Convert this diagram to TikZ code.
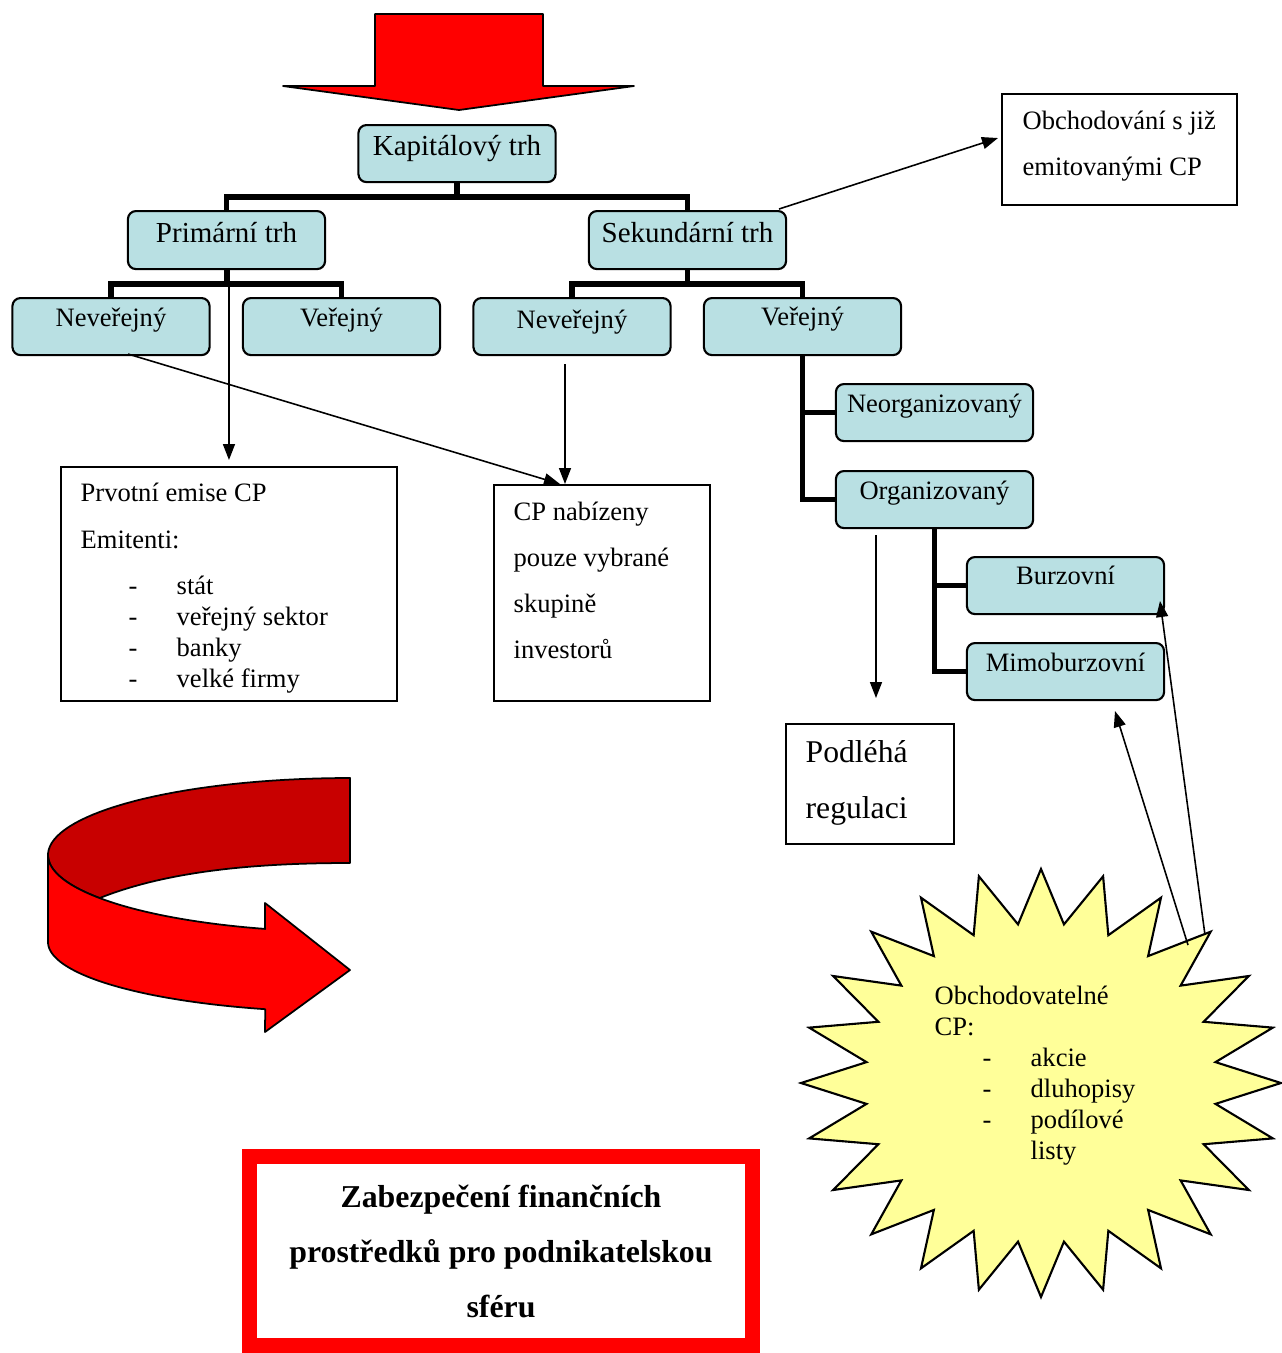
\documentclass[tikz,border=0pt]{standalone}
\usepackage{fontspec}
\setmainfont{Liberation Serif}
\usetikzlibrary{arrows.meta}
\definecolor{boxblue}{RGB}{185,224,227}
\definecolor{staryellow}{RGB}{255,255,153}
\definecolor{darkband}{RGB}{200,0,0}
\newcommand\fsm{\fontsize{7.55}{9}\selectfont}
\newcommand\fmd{\fontsize{8.25}{10}\selectfont}
\newcommand\flg{\fontsize{9}{11}\selectfont}
\newcommand\fbd{\fontsize{9.05}{15.65}\selectfont\bfseries}
\tikzset{
  mkt/.style={draw, fill=boxblue, rounded corners=0.08cm, line width=0.6pt,
    minimum width=1.97cm, inner sep=0pt, anchor=north, font=\fsm,
    text height=0.28cm, text depth=0.29cm},
  mktbig/.style={mkt, font=\fmd, text height=0.30cm, text depth=0.27cm},
  plain/.style={draw, line width=0.5pt, inner sep=0pt, anchor=north west},
  txt/.style={inner sep=0pt, anchor=base west, font=\fsm},
  tree/.style={line width=0.055cm, line join=miter},
  arr/.style={line width=0.45pt, -{Triangle[length=0.16cm,width=0.12cm]}},
  redshape/.style={fill=red, draw=black, line width=0.5pt, line join=round}
}
\begin{document}
\begin{tikzpicture}[x=0.01cm, y=-0.01cm]
\useasboundingbox (0,0) rectangle (1282,1353);

% big downward arrow at the top
\filldraw[redshape] (375,14) -- (543,14) -- (543,86) -- (634,86) -- (459,110)
  -- (283,86) -- (375,86) -- cycle;

% market tree
\node[mktbig] (kap) at (457,124) {Kapitálový trh};
\node[mktbig, text height=0.31cm] (prim) at (226.5,210) {Primární trh};
\node[mktbig, text height=0.31cm] (sek) at (687.5,210) {Sekundární trh};
\node[mkt] (nev1) at (111,297) {Neveřejný};
\node[mkt] (ver1) at (341.5,297) {Veřejný};
\node[mkt, text height=0.30cm, text depth=0.27cm] (nev2) at (572,297) {Neveřejný};
\node[mkt, text height=0.27cm, text depth=0.30cm] (ver2) at (802.5,297) {Veřejný};
\node[mkt] (neorg) at (934.5,383) {Neorganizovaný};
\node[mkt] (org) at (934.5,470) {Organizovaný};
\node[mkt, text height=0.27cm, text depth=0.30cm] (burz) at (1065.5,556) {Burzovní};
\node[mkt] (mimo) at (1065.5,642) {Mimoburzovní};

\draw[tree] (kap.south) -- ++(0,14) -| (prim.north);
\draw[tree] (kap.south) -- ++(0,14) -| (sek.north);
\draw[tree] (prim.south) -- ++(0,14) -| (nev1.north);
\draw[tree] (prim.south) -- ++(0,14) -| (ver1.north);
\draw[tree] (sek.south) -- ++(0,14) -| (nev2.north);
\draw[tree] (sek.south) -- ++(0,14) -| (ver2.north);
\draw[tree] (ver2.south) |- (neorg.west);
\draw[tree] (ver2.south) |- (org.west);
\draw[tree] (org.south) |- (burz.west);
\draw[tree] (org.south) |- (mimo.west);

% text boxes
\node[plain, minimum width=2.35cm, minimum height=1.11cm] (obch) at (1001,93) {};
\node[txt] (obch1) at (1022,129) {Obchodování s již};
\node[txt] (obch2) at (1022,175) {emitovanými CP};

\node[plain, minimum width=3.36cm, minimum height=2.34cm] (prv) at (60,466) {};
\node[txt] (prv1) at (80,501) {Prvotní emise CP};
\node[txt] (prv2) at (80,548) {Emitenti:};
\node[txt] (prvd1) at (128,594) {-};
\node[txt] (prvd2) at (128,625) {-};
\node[txt] (prvd3) at (128,656) {-};
\node[txt] (prvd4) at (128,687) {-};
\node[txt] (prvi1) at (176,594) {stát};
\node[txt] (prvi2) at (176,625) {veřejný sektor};
\node[txt] (prvi3) at (176,656) {banky};
\node[txt] (prvi4) at (176,687) {velké firmy};

\node[plain, minimum width=2.16cm, minimum height=2.16cm] (cp) at (493,484) {};
\node[txt] (cp1) at (513,520) {CP nabízeny};
\node[txt] (cp2) at (513,566) {pouze vybrané};
\node[txt] (cp3) at (513,612) {skupině};
\node[txt] (cp4) at (513,658) {investorů};

\node[plain, minimum width=1.68cm, minimum height=1.20cm] (reg) at (785,723) {};
\node[txt, font=\flg] (reg1) at (805,762) {Podléhá};
\node[txt, font=\flg] (reg2) at (805,818) {regulaci};

% thin arrows
\coordinate (n1out) at (128,354);
\coordinate (cpin1) at (560,484);
\coordinate (n2out) at (565,364);
\coordinate (cpin2) at (565,484);
\coordinate (orgout) at (876,535);
\coordinate (regin) at (876,698);
\coordinate (sekout) at (779,209);
\coordinate (obchin) at (998,138);
\coordinate (st1) at (1188,945);
\coordinate (mimoin) at (1115,711);
\coordinate (st2) at (1205,935);
\coordinate (burzin) at (1160,601);

\draw[arr, shorten >=0.06cm] (prim.south -| prv.north) -- (prv.north);
\draw[arr] (n1out) -- (cpin1);
\draw[arr] (n2out) -- (cpin2);
\draw[arr] (orgout) -- (regin);
\draw[arr] (sekout) -- (obchin);

% curved red arrow
\filldraw[fill=darkband, draw=black, line width=0.5pt, line join=round]
  (350,778) -- plot[domain=270:146, samples=50] ({350+302*cos(\x)},{855+77*sin(\x)})
  .. controls (170,870) and (260,863) .. (350,863) -- cycle;
\filldraw[redshape]
  (48,855) -- (48,942)
  -- plot[domain=180:106.3, samples=50] ({350+302*cos(\x)},{942+70*sin(\x)})
  -- (265,1032) -- (350,970) -- (265,903) -- (265,929)
  -- plot[domain=106.3:180, samples=50] ({350+302*cos(\x)},{855+77*sin(\x)})
  -- cycle;

% starburst
\filldraw[fill=staryellow, draw=black, line width=0.6pt, line join=miter]
  (1041,869)
  \foreach \k in {0,...,23} {
    -- ({1041+176*sin(15*\k+7.5)},{1083-160*cos(15*\k+7.5)})
    -- ({1041+240*sin(15*\k+15)},{1083-214*cos(15*\k+15)})
  } -- cycle;
\node[txt] (st0) at (934,1004) {Obchodovatelné};
\node[txt] (st00) at (934,1035) {CP:};
\node[txt] (sd1) at (982,1066) {-};
\node[txt] (sd2) at (982,1097) {-};
\node[txt] (sd3) at (982,1128) {-};
\node[txt] (si1) at (1030,1066) {akcie};
\node[txt] (si2) at (1030,1097) {dluhopisy};
\node[txt] (si3) at (1030,1128) {podílové};
\node[txt] (si4) at (1030,1159) {listy};

\draw[arr] (st1) -- (mimoin);
\draw[arr] (st2) -- (burzin);

% goal box
\node[draw=red, line width=0.15cm, minimum width=5.02cm, minimum height=1.88cm,
  align=center, font=\fbd, inner sep=0pt] (goal) at (501,1251)
  {Zabezpečení finančních\\prostředků pro podnikatelskou\\sféru};
\end{tikzpicture}
\end{document}
